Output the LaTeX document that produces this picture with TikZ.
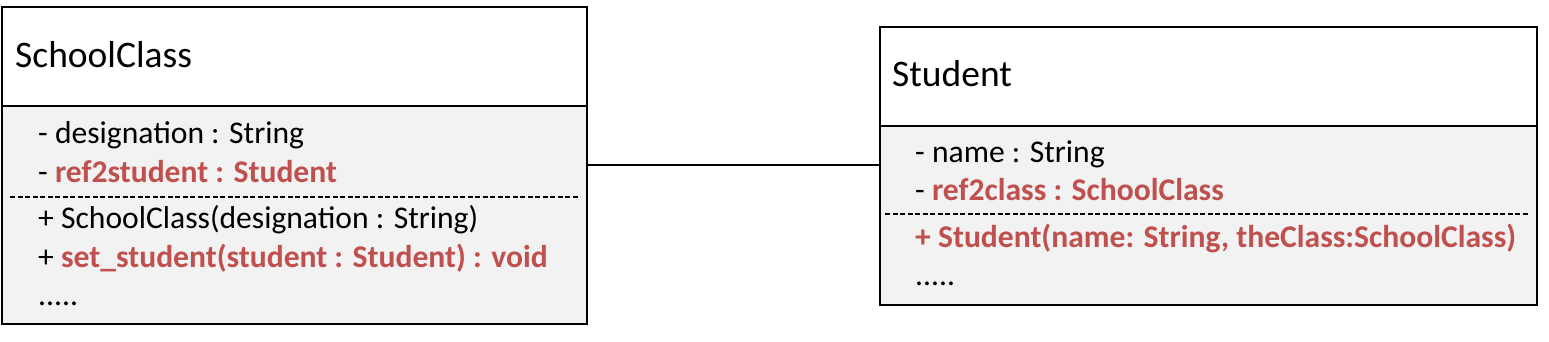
\documentclass[tikz,border=0pt]{standalone}
\usepackage{fontspec}
\setmainfont{Carlito}
\definecolor{refred}{HTML}{C0504D}
\definecolor{bodygray}{HTML}{F2F2F2}
\tikzset{
    classhead/.style={draw=black,fill=white,line width=2pt,anchor=north west,inner sep=0pt,outer sep=0pt},
    classbody/.style={classhead,fill=bodygray},
    sepline/.style={line width=1.6pt,dash pattern=on 5pt off 2.5pt},
    member/.style={anchor=base west,inner sep=0pt,font=\fontsize{31.6}{36}\selectfont},
    classname/.style={member,font=\fontsize{37.5}{42}\selectfont},
}
\newcommand{\refpart}[1]{\textcolor{refred}{\bfseries #1}}
\begin{document}
\begin{tikzpicture}[x=1pt,y=-1pt]
    \useasboundingbox (0,0) rectangle (1549,342);
    % SchoolClass
    \node[classhead,minimum width=585pt,minimum height=99pt] (schoolhead) at (2,7) {};
    \node[classbody,minimum width=585pt,minimum height=218pt] (schoolbody) at (schoolhead.south west) {};
    \node[classname] (schooltitle) at (15,68) {SchoolClass};
    \node[member] (schoolattr1) at (38,143) {- designation : String};
    \node[member] (schoolattr2) at (38,182) {- \refpart{ref2student : Student}};
    \draw[sepline] (10,197) -- (580,197);
    \node[member] (schoolop1) at (38,228) {+ SchoolClass(designation : String)};
    \node[member] (schoolop2) at (38,267) {+ \refpart{set\_student(student : Student) : void}};
    \node[member] (schooldots) at (38,305) {.....};
    % Student
    \node[classhead,minimum width=657pt,minimum height=99pt] (studenthead) at (880,27) {};
    \node[classbody,minimum width=657pt,minimum height=179pt] (studentbody) at (studenthead.south west) {};
    \node[classname] (studenttitle) at (892,87) {Student};
    \node[member] (studentattr1) at (915,162) {- name : String};
    \node[member] (studentattr2) at (915,200) {- \refpart{ref2class : SchoolClass}};
    \draw[sepline] (885,214) -- (1528,214);
    \node[member] (studentop1) at (915,247) {\refpart{+ Student(name: String, theClass:SchoolClass)}};
    \node[member] (studentdots) at (915,285) {.....};
    % association
    \coordinate (link) at (0,165);
    \draw[line width=2pt] (link -| schoolbody.east) -- (link -| studentbody.west);
\end{tikzpicture}
\end{document}
